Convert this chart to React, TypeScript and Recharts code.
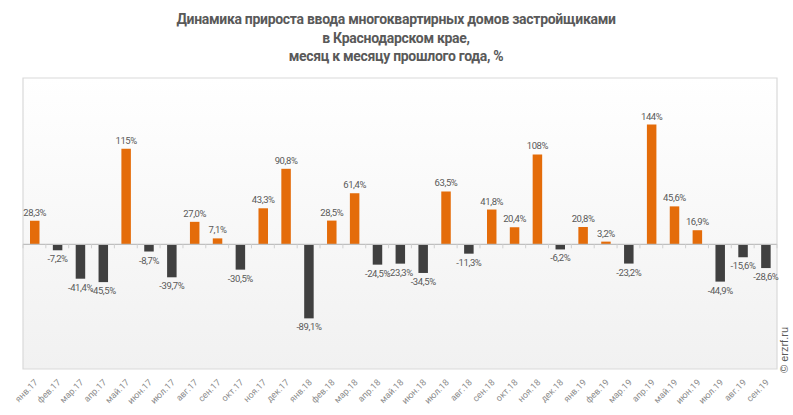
import React from 'react';
import { BarChart, Bar, XAxis, YAxis, Cell, LabelList, ReferenceLine, ReferenceArea, CartesianGrid } from 'recharts';

const months = [
  'янв.17', 'фев.17', 'мар.17', 'апр.17', 'май.17', 'июн.17', 'июл.17', 'авг.17', 'сен.17', 'окт.17', 'ноя.17', 'дек.17',
  'янв.18', 'фев.18', 'мар.18', 'апр.18', 'май.18', 'июн.18', 'июл.18', 'авг.18', 'сен.18', 'окт.18', 'ноя.18', 'дек.18',
  'янв.19', 'фев.19', 'мар.19', 'апр.19', 'май.19', 'июн.19', 'июл.19', 'авг.19', 'сен.19',
];

const growth = [
  28.3, -7.2, -41.4, -45.5, 115, -8.7, -39.7, 27.0, 7.1, -30.5, 43.3, 90.8,
  -89.1, 28.5, 61.4, -24.5, -23.3, -34.5, 63.5, -11.3, 41.8, 20.4, 108, -6.2,
  20.8, 3.2, -23.2, 144, 45.6, 16.9, -44.9, -15.6, -28.6,
];

const titleLines = [
  'Динамика прироста ввода многоквартирных домов застройщиками',
  'в Краснодарском крае,',
  'месяц к месяцу прошлого года, %',
];

const data = months.map((m, i) => ({ month: m, value: growth[i] }));

const ORANGE = '#e46c0a';
const DARK = '#404040';
const TEXT = '#595959';

const fmt = (v: number) => (Math.abs(v) >= 100 ? Math.round(v).toString() : v.toFixed(1).replace('.', ',')) + '%';

const ValueLabel = (props: any) => {
  const { x, y, width, height, value } = props;
  const cx = x + width / 2;
  const top = Math.min(y, y + height);
  const bottom = Math.max(y, y + height);
  const neg = value < 0;
  const ty = neg ? bottom + 12 : top - 5;
  return (
    <text x={cx} y={ty} textAnchor="middle" fontSize={9.5} letterSpacing={-0.4} fill={TEXT} fontFamily="Roboto, sans-serif">
      {fmt(value)}
    </text>
  );
};

const MonthTick = (props: any) => {
  const { x, y, payload } = props;
  return (
    <g transform={`translate(${x + 4},${y + 6})`}>
      <text x={0} y={0} textAnchor="end" transform="rotate(-45)" fontSize={9} fill="#8c8c8c" fontFamily="Roboto, sans-serif">
        {payload.value}
      </text>
    </g>
  );
};

const ZeroLine = (props: any) => {
  const { x1, y1, x2 } = props;
  const n = months.length;
  const step = (x2 - x1) / n;
  return (
    <g>
      <line x1={x1} y1={y1} x2={x2} y2={y1} stroke="#bfbfbf" strokeWidth={1.2} />
      {Array.from({ length: n + 1 }, (_, i) => (
        <line key={i} x1={x1 + i * step} y1={y1} x2={x1 + i * step} y2={y1 + 4} stroke="#d0d0d0" strokeWidth={1} />
      ))}
    </g>
  );
};

export default function App() {
  return (
    <div style={{ position: 'absolute', left: 0, top: 0, width: 793, height: 415, background: '#fff' }}>
      <svg width={793} height={80} style={{ position: 'absolute', left: 0, top: 0 }}>
        {titleLines.map((t, i) => (
          <text key={i} x={396} y={24 + i * 18.5} textAnchor="middle" fontSize={14} fontWeight="bold" letterSpacing={-0.3} fill={TEXT} fontFamily="Roboto, sans-serif">
            {t}
          </text>
        ))}
      </svg>
      <div style={{ position: 'absolute', left: 0, top: 0 }}>
        <BarChart width={793} height={415} data={data} margin={{ top: 78, right: 16, left: 23, bottom: 6 }} barSize={9.5}>
          <defs>
            <linearGradient id="plotBg" x1="0" y1="0" x2="0" y2="1">
              <stop offset="0%" stopColor="#ffffff" />
              <stop offset="100%" stopColor="#f1f1f1" />
            </linearGradient>
          </defs>
          <CartesianGrid horizontal={false} vertical={false} fill="url(#plotBg)" />
          <XAxis dataKey="month" interval={0} tick={<MonthTick />} tickLine={false} axisLine={false} height={40} />
          <YAxis hide domain={[-150, 200]} />
          <ReferenceArea y1={-150} y2={200} fill="none" stroke="#d9d9d9" strokeWidth={1.2} />
          <ReferenceLine y={0} shape={<ZeroLine />} />
          <Bar dataKey="value" isAnimationActive={false}>
            {data.map((d, i) => (
              <Cell key={i} fill={d.value >= 0 ? ORANGE : DARK} />
            ))}
            <LabelList dataKey="value" content={<ValueLabel />} />
          </Bar>
        </BarChart>
      </div>
      <svg width={20} height={415} style={{ position: 'absolute', left: 773, top: 0 }}>
        <text x={0} y={0} transform="translate(15,373) rotate(-90)" fontSize={11} fill={TEXT} fontFamily="Arial, 'Liberation Sans', sans-serif">
          © erzrf.ru
        </text>
      </svg>
    </div>
  );
}
